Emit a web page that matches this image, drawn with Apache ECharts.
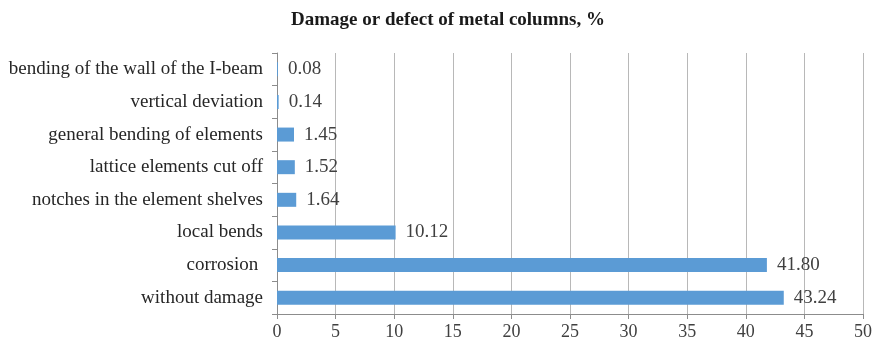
<!DOCTYPE html>
<html>
<head>
<meta charset="utf-8">
<script src="https://cdn.jsdelivr.net/npm/echarts@6/dist/echarts.min.js"></script>
<style>
  html, body { margin: 0; padding: 0; background: #fff; }
  #chart { width: 876px; height: 345px; }
</style>
</head>
<body>
<div id="chart"></div>
<script>
// Damage types, listed bottom-to-top as drawn on the category axis
const categories = [
  'without damage',
  'corrosion ',
  'local bends',
  'notches in the element shelves',
  'lattice elements cut off',
  'general bending of elements',
  'vertical deviation',
  'bending of the wall of the I-beam'
];
const shares = [43.24, 41.80, 10.12, 1.64, 1.52, 1.45, 0.14, 0.08];
const xTicks = [0, 5, 10, 15, 20, 25, 30, 35, 40, 45, 50];

const serif = '"Liberation Serif", "DejaVu Serif", serif';
const chart = echarts.init(document.getElementById('chart'));
chart.setOption({
  animation: false,
  title: {
    text: 'Damage or defect of metal columns, %',
    left: 443,
    textAlign: 'center',
    top: 6,
    textStyle: { fontFamily: serif, fontSize: 19, fontWeight: 'bold', color: '#1a1a1a' }
  },
  grid: { left: 277, right: 13, top: 53, bottom: 31, containLabel: false },
  xAxis: {
    type: 'value',
    min: xTicks[0],
    max: xTicks[xTicks.length - 1],
    interval: 5,
    axisLine: { show: true, lineStyle: { color: '#8c8c8c', width: 1 } },
    axisTick: { show: true, length: 5, lineStyle: { color: '#8c8c8c' } },
    splitLine: { show: true, lineStyle: { color: '#b8b8b8', width: 1 } },
    axisLabel: { fontFamily: serif, fontSize: 18, color: '#404040', margin: 9 }
  },
  yAxis: {
    type: 'category',
    data: categories,
    axisLine: { show: true, lineStyle: { color: '#8c8c8c', width: 1 } },
    axisTick: { show: true, length: 5, inside: false, alignWithLabel: false, lineStyle: { color: '#8c8c8c' } },
    axisLabel: { fontFamily: serif, fontSize: 19, color: '#262626', margin: 14 }
  },
  series: [{
    type: 'bar',
    data: shares,
    barWidth: 14,
    itemStyle: { color: '#5b9bd5' },
    label: {
      show: true,
      position: 'right',
      distance: 10,
      fontFamily: serif,
      fontSize: 19,
      color: '#404040',
      formatter: p => p.value.toFixed(2)
    }
  }]
});
</script>
</body>
</html>
